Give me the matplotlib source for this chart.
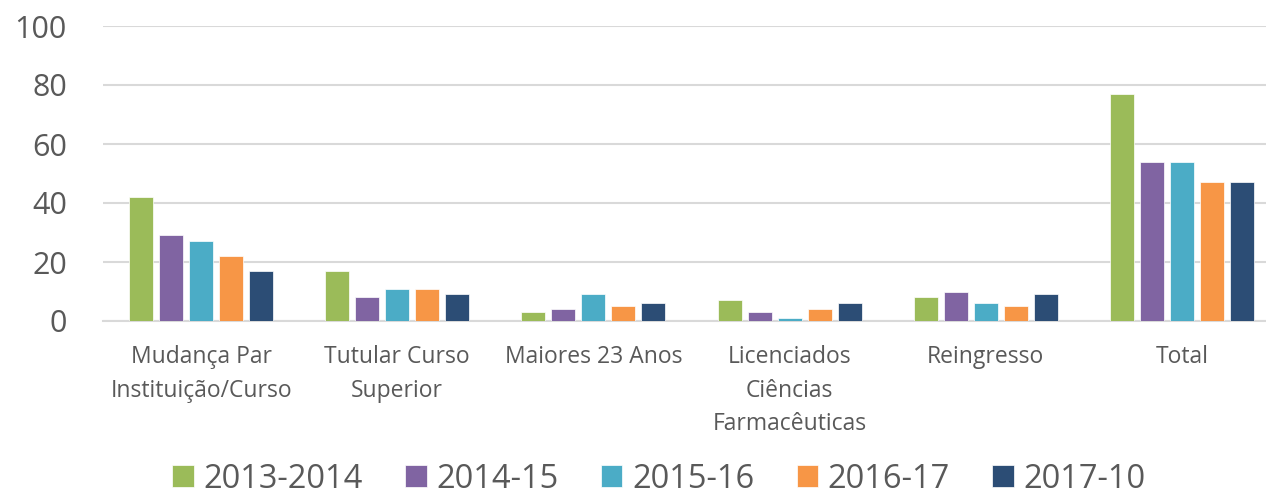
import matplotlib
matplotlib.use("Agg")
import matplotlib.pyplot as plt
import numpy as np

categories = ["Mudança Par\nInstituição/Curso", "Tutular Curso\nSuperior", "Maiores 23 Anos",
              "Licenciados\nCiências\nFarmacêuticas", "Reingresso", "Total"]
series_names = ["2013-2014", "2014-15", "2015-16", "2016-17", "2017-10"]
v2013 = [42, 17, 3, 7, 8, 77]
v2014 = [29, 8, 4, 3, 10, 54]
v2015 = [27, 11, 9, 1, 6, 54]
v2016 = [22, 11, 5, 4, 5, 47]
v2017 = [17, 9, 6, 6, 9, 47]
yticks = [0, 20, 40, 60, 80, 100]

colors = ["#9BBB59", "#8064A2", "#4BACC6", "#F79646", "#2C4D75"]
txt = "#595959"
plt.rcParams['font.family'] = ['Open Sans', 'DejaVu Sans']

W, H = 1266, 497
fig = plt.figure(figsize=(W/100, H/100), dpi=100)
ax = fig.add_axes([103/W, (H-321)/H, (1280-103)/W, (321-26)/H])

x = np.arange(len(categories))
bw = 24/196
stride = 30/196
for i, (vals, c, n) in enumerate(zip([v2013, v2014, v2015, v2016, v2017], colors, series_names)):
    ax.bar(x + (i-2)*stride, vals, bw, color=c, label=n, zorder=3,
           edgecolor="white", linewidth=0.5)

ax.set_xlim(-0.5, len(categories)-0.5)
ax.set_ylim(0, 100)
ax.set_yticks(yticks)
ax.set_yticklabels([str(t) for t in yticks], fontsize=22, color=txt)
ax.set_xticks(x)
ax.set_xticklabels(categories, fontsize=16.5, color=txt, linespacing=1.55)
ax.tick_params(axis='both', length=0)
ax.tick_params(axis='y', pad=26)
ax.tick_params(axis='x', pad=17)
ax.grid(axis='y', color="#d9d9d9", linewidth=1.5, zorder=0)
for s in ["top", "right", "left"]:
    ax.spines[s].set_visible(False)
ax.spines["bottom"].set_color("#d9d9d9")
ax.spines["bottom"].set_linewidth(1.5)

fig.legend(loc="center", bbox_to_anchor=(659/W, 1-479/H), ncol=5, frameon=False,
           fontsize=23.5, labelcolor=txt, handlelength=0.65, handleheight=0.65,
           handletextpad=0.3, columnspacing=1.3, borderpad=0.1)

fig.savefig("out.png", dpi=100)
